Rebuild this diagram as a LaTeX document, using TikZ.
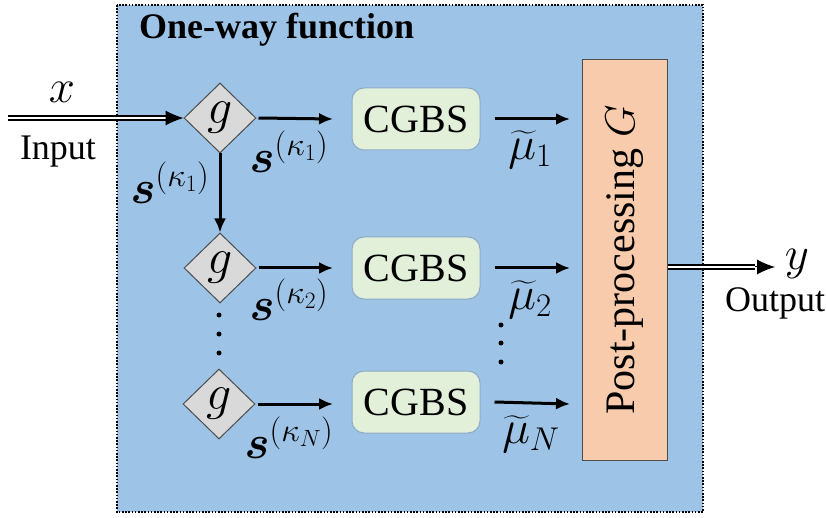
\RequirePackage{fix-cm}
\documentclass[tikz,border=0pt]{standalone}
\usepackage{fontspec}
\setmainfont{Liberation Serif}
\usepackage{amsmath,bm}
\usetikzlibrary{arrows.meta,shapes.geometric}
\definecolor{bluebg}{RGB}{157,195,230}
\definecolor{diagray}{RGB}{217,217,217}
\definecolor{cgbsfill}{RGB}{226,240,217}
\definecolor{cgbsdraw}{RGB}{143,170,200}
\definecolor{ppfill}{RGB}{248,203,173}
\begin{document}
\begin{tikzpicture}[x=1pt,y=-1pt,
  gnode/.style={diamond,draw=black!70,fill=diagray,line width=1pt,minimum width=72pt,minimum height=70pt,inner sep=0pt,font=\fontsize{50}{50}\selectfont},
  cgbs/.style={rectangle,rounded corners=12pt,draw=cgbsdraw,fill=cgbsfill,line width=1pt,minimum width=128pt,minimum height=62pt,font=\fontsize{40}{40}\selectfont},
  arr/.style={line width=3pt,-{Latex[length=14pt,width=12pt]}},
  dbl/.style={double,double distance=2.5pt,line width=1.3pt},
  lbl/.style={font=\fontsize{47}{47}\selectfont,inner sep=0pt},
  txt/.style={font=\fontsize{36}{36}\selectfont,inner sep=0pt},
  dotc/.style={fill=black,circle,inner sep=0pt,minimum size=5pt}]
\useasboundingbox (0,0) rectangle (826,518);
% background box
\draw[fill=bluebg,line width=2.5pt,dash pattern=on 1.6pt off 1.6pt] (117,5) rectangle (703,512);
\node[anchor=west,font=\fontsize{36}{36}\selectfont\bfseries,inner sep=0pt] (title) at (139,30) {One-way function};
% diamonds
\node[gnode] (g1) at (220,118) {$g$};
\node[gnode] (g2) at (220,268) {$g$};
\node[gnode] (g3) at (219,404) {$g$};
% CGBS
\node[cgbs] (c1) at (416,119) {CGBS};
\node[cgbs] (c2) at (416,268) {CGBS};
\node[cgbs] (c3) at (416,402) {CGBS};
% post-processing
\node[rectangle,draw=black!70,fill=ppfill,line width=1pt,minimum width=400pt,minimum height=85pt,rotate=90,font=\fontsize{42}{42}\selectfont] (pp) at (624.5,260) {Post-processing $G$};
% input
\coordinate (in) at (8,118);
\coordinate (inb) at (170,118);
\draw[dbl] (in) -- (inb);
\draw[line width=1pt,-{Latex[length=18pt,width=15pt]}] (inb) -- (g1.west);
\node[lbl] (xl) at (62,92) {$x$};
\node[txt] (inl) at (58,152) {Input};
% vertical
\draw[arr] (g1.south) -- (g2.north);
\node[lbl] (sv) at (170,183) {$\bm{s}^{(\kappa_1)}$};
% horizontal s arrows
\coordinate (a1) at (333,119);
\coordinate (a2) at (333,268);
\coordinate (a3) at (333,404);
\draw[arr] ([xshift=2pt]g1.east) -- (a1);
\draw[arr] ([xshift=2pt]g2.east) -- (a2);
\draw[arr] ([xshift=2pt]g3.east) -- (a3);
\node[lbl] (s1) at (289,152) {$\bm{s}^{(\kappa_1)}$};
\node[lbl] (s2) at (289,300) {$\bm{s}^{(\kappa_2)}$};
\node[lbl] (s3) at (289,438) {$\bm{s}^{(\kappa_N)}$};
% mu arrows
\coordinate (m1) at (570,119);
\coordinate (m2) at (570,268);
\coordinate (m3) at (570,404);
\draw[arr] ([xshift=14pt]c1.east) -- (m1);
\draw[arr] ([xshift=14pt]c2.east) -- (m2);
\draw[arr] ([xshift=14pt]c3.east) -- (m3);
\node[lbl] (mu1) at (530,150) {$\widetilde{\mu}_1$};
\node[lbl] (mu2) at (530,300) {$\widetilde{\mu}_2$};
\node[lbl] (mu3) at (531,434) {$\widetilde{\mu}_N$};
% dots
\node[dotc] (d1) at (219,315) {};
\node[dotc] (d2) at (219,334) {};
\node[dotc] (d3) at (219,353) {};
\node[dotc] (e1) at (501,325) {};
\node[dotc] (e2) at (501,343) {};
\node[dotc] (e3) at (501,362) {};
% output
\coordinate (ob) at (755,267);
\coordinate (ot) at (775,267);
\draw[dbl] (pp.south |- ob) -- (ob);
\draw[line width=1pt,-{Latex[length=18pt,width=15pt]}] (ob) -- (ot);
\node[lbl] (yl) at (797,264) {$y$};
\node[txt] (outl) at (775,303) {Output};
\end{tikzpicture}
\end{document}
